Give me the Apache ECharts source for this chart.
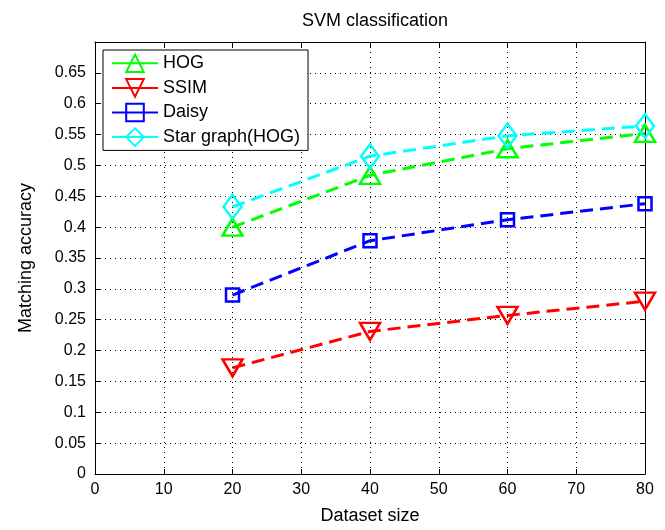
<!DOCTYPE html>
<html>
<head>
<meta charset="utf-8">
<script src="https://cdn.jsdelivr.net/npm/echarts@6/dist/echarts.min.js"></script>
<style>
  html, body { margin: 0; padding: 0; background: #fff; }
  #main { width: 665px; height: 530px; }
</style>
</head>
<body>
<div id="main"></div>
<script>
// values
var dataset_size = [20, 40, 60, 80];
var hog_acc = [0.400, 0.484, 0.527, 0.552];
var ssim_acc = [0.172, 0.231, 0.257, 0.280];
var daisy_acc = [0.290, 0.378, 0.412, 0.438];
var star_acc = [0.433, 0.515, 0.548, 0.564];

var font = 'Liberation Sans, Arial, Helvetica, sans-serif';

function pairs(xs, ys) {
    var out = [];
    for (var i = 0; i < xs.length; i++) {
        out.push([xs[i], ys[i]]);
    }
    return out;
}

function make_series(name, color, ys, symbol, size, rotate) {
    return {
        name: name,
        type: 'line',
        data: pairs(dataset_size, ys),
        symbol: symbol,
        symbolSize: size,
        symbolRotate: rotate || 0,
        showAllSymbol: true,
        lineStyle: { color: color, width: 3, type: [13, 7] },
        itemStyle: { color: 'none', borderColor: color, borderWidth: 2.5 },
        emphasis: { disabled: true },
        z: 3
    };
}

var chart = echarts.init(document.getElementById('main'));

var option = {
    animation: false,
    title: {
        text: 'SVM classification',
        left: 370,
        top: 7,
        textAlign: 'center',
        textStyle: { fontFamily: font, fontSize: 18, fontWeight: 'normal', color: '#000' }
    },
    legend: {
        orient: 'vertical',
        left: 103,
        top: 50,
        itemWidth: 46,
        itemHeight: 22,
        itemGap: 2,
        padding: [2, 8, 2, 8],
        backgroundColor: '#fff',
        borderColor: '#000',
        borderWidth: 1,
        textStyle: { fontFamily: font, fontSize: 18, color: '#000' },
        lineStyle: { type: 'solid' },
        data: ['HOG', 'SSIM', 'Daisy', 'Star graph(HOG)']
    },
    grid: { left: 95, right: 20, top: 42, bottom: 53 },
    xAxis: [{
        type: 'value',
        min: 0, max: 80, interval: 10,
        name: 'Dataset size',
        nameLocation: 'middle',
        nameGap: 33,
        nameTextStyle: { fontFamily: font, fontSize: 18, color: '#000' },
        axisLine: { show: true, onZero: false, lineStyle: { color: '#000', width: 1 } },
        axisTick: { show: true, inside: true, length: 5, lineStyle: { color: '#000' } },
        axisLabel: { fontFamily: font, fontSize: 16, color: '#000', margin: 8 },
        splitLine: { show: true, lineStyle: { color: '#000', width: 1, type: [1, 4] } }
    }, {
        type: 'value',
        position: 'top',
        min: 0, max: 80, interval: 10,
        axisLine: { show: true, onZero: false, lineStyle: { color: '#000', width: 1 } },
        axisTick: { show: true, inside: true, length: 5, lineStyle: { color: '#000' } },
        axisLabel: { show: false },
        splitLine: { show: false }
    }],
    yAxis: [{
        type: 'value',
        min: 0, max: 0.7, interval: 0.05,
        name: 'Matching accuracy',
        nameLocation: 'middle',
        nameGap: 60,
        nameTextStyle: { fontFamily: font, fontSize: 18, color: '#000' },
        axisLine: { show: true, onZero: false, lineStyle: { color: '#000', width: 1 } },
        axisTick: { show: true, inside: true, length: 5, lineStyle: { color: '#000' } },
        axisLabel: {
            fontFamily: font, fontSize: 16, color: '#000', margin: 9,
            formatter: function (v) {
                if (v > 0.69) return '';
                return String(+v.toFixed(2));
            }
        },
        splitLine: { show: true, lineStyle: { color: '#000', width: 1, type: [1, 4] } }
    }, {
        type: 'value',
        position: 'right',
        min: 0, max: 0.7, interval: 0.05,
        axisLine: { show: true, onZero: false, lineStyle: { color: '#000', width: 1 } },
        axisTick: { show: true, inside: true, length: 5, lineStyle: { color: '#000' } },
        axisLabel: { show: false },
        splitLine: { show: false }
    }],
    series: [
        make_series('HOG', '#00ff00', hog_acc, 'triangle', [20, 17]),
        make_series('SSIM', '#ff0000', ssim_acc, 'triangle', [20, 17], 180),
        make_series('Daisy', '#0000ff', daisy_acc, 'rect', [13, 13]),
        make_series('Star graph(HOG)', '#00ffff', star_acc, 'diamond', [18, 24])
    ]
};

chart.setOption(option);
</script>
</body>
</html>
